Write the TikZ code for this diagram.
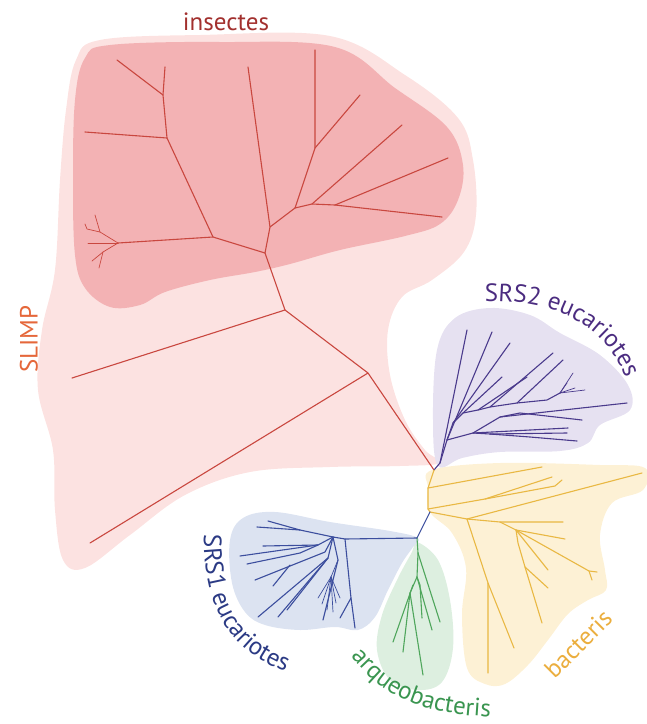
\documentclass[tikz,border=0pt]{standalone}
\usepackage{fontspec}
\setmainfont{PT Sans}
\usetikzlibrary{decorations.text}
% blob fills
\definecolor{SLIMPfill}{HTML}{FCE2E1}
\definecolor{INSfill}{HTML}{F3B2B4}
\definecolor{SRStwofill}{HTML}{E6E1F1}
\definecolor{SRSonefill}{HTML}{DCE3F1}
\definecolor{ARQfill}{HTML}{DDEFE0}
\definecolor{BACfill}{HTML}{FDF1D5}
% branch colours
\definecolor{REDline}{HTML}{C9473F}
\definecolor{PURline}{HTML}{4A3A8C}
\definecolor{BLUline}{HTML}{3C4E9E}
\definecolor{GRNline}{HTML}{4FA65C}
\definecolor{YELline}{HTML}{E9B843}
% label colours
\definecolor{INStext}{HTML}{A2302E}
\definecolor{SLIMPtext}{HTML}{E5673A}
\definecolor{SRStwotext}{HTML}{4B2C80}
\definecolor{SRSonetext}{HTML}{2B3A84}
\definecolor{ARQtext}{HTML}{3A9550}
\definecolor{BACtext}{HTML}{EBAE3E}
\tikzset{
  branch/.style={line width=1.1pt, line cap=round, line join=round},
  twig/.style={line width=0.7pt},
  blob/.style={smooth cycle, tension=0.6},
  grouplabel/.style={font=\fontsize{25}{29}\selectfont, inner sep=0pt}
}

\begin{document}
\begin{tikzpicture}[x=1pt, y=-1pt]
   \useasboundingbox (0,0) rectangle (647,724);
   % Group backgrounds
   \fill[SLIMPfill] plot[blob] coordinates {(100,40) (200,35) (330,36) (405,75) (458,118) (473,160)
      (476,215) (464,252) (432,280) (402,297) (388,330) (390,375) (405,420) (425,450) (440,463)
      (400,466) (330,467) (250,472) (185,495) (130,535) (85,568) (63,560) (55,510) (53,450)
      (38,390) (42,330) (55,270) (60,180) (66,110) (76,60)};
   \fill[INSfill] plot[blob] coordinates {(110,45) (220,42) (335,47) (395,88) (447,127) (463,165)
      (458,200) (440,224) (405,236) (340,250) (290,264) (255,272) (210,280) (165,292) (140,305)
      (110,307) (85,288) (75,255) (73,180) (75,100) (85,58)};
   \fill[SRStwofill] plot[blob] coordinates {(437,350) (455,318) (490,308) (530,315) (560,333)
      (600,355) (628,385) (630,410) (600,425) (588,443) (560,451) (500,452) (462,458) (438,466)
      (433,420)};
   \fill[BACfill] plot[blob] coordinates {(432,470) (500,463) (600,465) (645,468) (643,490)
      (612,503) (600,535) (605,570) (606,590) (588,600) (568,614) (548,640) (528,665) (505,684)
      (485,684) (467,668) (462,615) (466,568) (452,533) (430,512) (428,488)};
   \fill[ARQfill] plot[blob] coordinates {(417,542) (438,560) (450,600) (453,648) (442,682)
      (418,690) (390,680) (377,650) (382,615) (398,578) (412,552)};
   \fill[SRSonefill] plot[blob] coordinates {(418,538) (390,531) (330,522) (275,512) (243,518)
      (230,540) (232,583) (245,612) (265,625) (300,630) (335,627) (358,630) (375,617) (388,590)
      (402,563) (413,547)};
   % Branch points
   \coordinate (root) at (434,470);
   \coordinate (ystem) at (430,512);
   \coordinate (bjoin) at (417,538);
   % SLIMP and insectes
   \draw[branch, REDline] (root) -- (368,373) -- (285,310) -- (265,253) -- (213,237) -- (118,243);
   \draw[branch, REDline] (368,373) -- (90,543);
   \draw[branch, REDline] (285,310) -- (72,378);
   \draw[branch, REDline] (213,237) -- (167,138) -- (163,95) -- (165,67);
   \draw[branch, REDline] (163,95) -- (117,60);
   \draw[branch, REDline] (167,138) -- (85,132);
   \draw[branch, REDline, twig] (118,243) -- (100,232) -- (95,215);
   \draw[branch, REDline, twig] (100,232) -- (87,229) -- (85,224);
   \draw[branch, REDline, twig] (118,243) -- (88,243);
   \draw[branch, REDline, twig] (118,243) -- (103,252) -- (92,261);
   \draw[branch, REDline, twig] (103,252) -- (99,268);
   \draw[branch, REDline] (265,253) -- (270,227) -- (248,67);
   \draw[branch, REDline] (270,227) -- (295,208) -- (315,148) -- (315,50);
   \draw[branch, REDline] (315,148) -- (360,95);
   \draw[branch, REDline] (295,208) -- (312,204) -- (402,125);
   \draw[branch, REDline] (312,204) -- (335,205) -- (448,158);
   \draw[branch, REDline] (335,205) -- (442,217);
   % SRS2 eucariotes
   \draw[branch, PURline] (root) -- (440,463) -- (447,440) -- (453,423) -- (463,413) -- (478,410)
      -- (490,407) -- (517,403) -- (547,400) -- (560,393);
   \draw[branch, PURline] (440,463) -- (467,330);
   \draw[branch, PURline] (447,440) -- (492,332);
   \draw[branch, PURline] (453,423) -- (510,343);
   \draw[branch, PURline] (463,413) -- (502,377);
   \draw[branch, PURline] (478,410) -- (527,377);
   \draw[branch, PURline] (490,407) -- (553,353);
   \draw[branch, PURline] (517,403) -- (563,360);
   \draw[branch, PURline, twig] (560,393) -- (573,373);
   \draw[branch, PURline, twig] (560,393) -- (567,383);
   \draw[branch, PURline, twig] (560,393) -- (575,388);
   \draw[branch, PURline, twig] (560,393) -- (585,390);
   \draw[branch, PURline] (447,440) -- (473,433) -- (490,434) -- (530,437) -- (577,441);
   \draw[branch, PURline] (473,433) -- (568,428);
   \draw[branch, PURline] (490,434) -- (567,433);
   \draw[branch, PURline] (473,433) -- (500,417) -- (627,403);
   \draw[branch, PURline] (500,417) -- (520,413) -- (582,420);
   % bacteris
   \draw[branch, YELline] (root) -- (428,488) -- (428,509) -- (ystem);
   \draw[branch, YELline] (428,488) -- (542,467);
   \draw[branch, YELline] (428,509) -- (485,499) -- (552,477);
   \draw[branch, YELline] (485,499) -- (555,486) -- (562,480);
   \draw[branch, YELline] (ystem) -- (467,519) -- (642,473);
   \draw[branch, YELline] (467,519) -- (488,583) -- (488,673);
   \draw[branch, YELline] (488,583) -- (514,648);
   \draw[branch, YELline] (467,519) -- (500,522) -- (563,522);
   \draw[branch, YELline] (500,522) -- (516,530) -- (565,539);
   \draw[branch, YELline] (516,530) -- (548,570);
   \draw[branch, YELline] (516,530) -- (589,571) -- (597,572);
   \draw[branch, YELline] (589,571) -- (592,580);
   \draw[branch, YELline] (516,530) -- (518,543) -- (525,567) -- (542,623);
   \draw[branch, YELline] (525,567) -- (548,588);
   % arqueobacteris
   \draw[branch, BLUline] (ystem) -- (bjoin);
   \draw[branch, GRNline] (bjoin) -- (418,553) -- (440,622);
   \draw[branch, GRNline] (418,553) -- (417,577) -- (432,630);
   \draw[branch, GRNline] (417,577) -- (420,585) -- (422,618);
   \draw[branch, GRNline] (417,577) -- (410,593) -- (403,652);
   \draw[branch, GRNline] (410,593) -- (423,675);
   \draw[branch, GRNline] (413,585) -- (393,642);
   % SRS1 eucariotes
   \draw[branch, BLUline] (bjoin) -- (345,539) -- (333,537) -- (300,530) -- (257,527);
   \draw[branch, BLUline] (300,530) -- (268,521);
   \draw[branch, BLUline] (345,539) -- (351,598) -- (355,628);
   \draw[branch, BLUline] (351,598) -- (340,618);
   \draw[branch, BLUline] (333,537) -- (318,545) -- (263,546);
   \draw[branch, BLUline] (318,545) -- (240,556);
   \draw[branch, BLUline] (318,545) -- (300,553) -- (247,564);
   \draw[branch, BLUline] (333,537) -- (325,552) -- (255,580);
   \draw[branch, BLUline] (290,565) -- (273,586);
   \draw[branch, BLUline] (333,537) -- (328,558) -- (258,617);
   \draw[branch, BLUline] (328,558) -- (278,617);
   \draw[branch, BLUline] (328,558) -- (287,610);
   \draw[branch, BLUline] (333,537) -- (338,560) -- (323,620);
   \draw[branch, BLUline, twig] (338,560) -- (331,577) -- (318,598);
   \draw[branch, BLUline, twig] (331,577) -- (322,604);
   \draw[branch, BLUline, twig] (331,577) -- (327,610);
   \draw[branch, BLUline, twig] (331,577) -- (333,612);
   \draw[branch, BLUline, twig] (331,577) -- (336,603);
   \draw[branch, BLUline, twig] (331,577) -- (340,598);
   % Labels
   \node[grouplabel, text=INStext] (insectes) at (226,22) {insectes};
   \node[grouplabel, text=SLIMPtext, rotate=90] (slimp) at (29,339) {SLIMP};
   \node[grouplabel, text=BACtext, rotate=45] (bacteris) at (578,644) {bacteris};
   \path[decorate, decoration={text along path, text align=center,
      text={|\fontsize{25}{29}\selectfont\color{SRStwotext}|SRS2 eucariotes}}]
      (472,302) .. controls (540,297) and (607,315) .. (630,390);
   \path[decorate, decoration={text along path, text align=center,
      text={|\fontsize{25}{29}\selectfont\color{SRSonetext}|SRS1 eucariotes}}]
      (204,528) .. controls (202,602) and (225,652) .. (292,674);
   \path[decorate, decoration={text along path, text align=center,
      text={|\fontsize{25}{29}\selectfont\color{ARQtext}|arqueobacteris}}]
      (343,648) .. controls (372,680) and (395,716) .. (502,717);
\end{tikzpicture}
\end{document}
